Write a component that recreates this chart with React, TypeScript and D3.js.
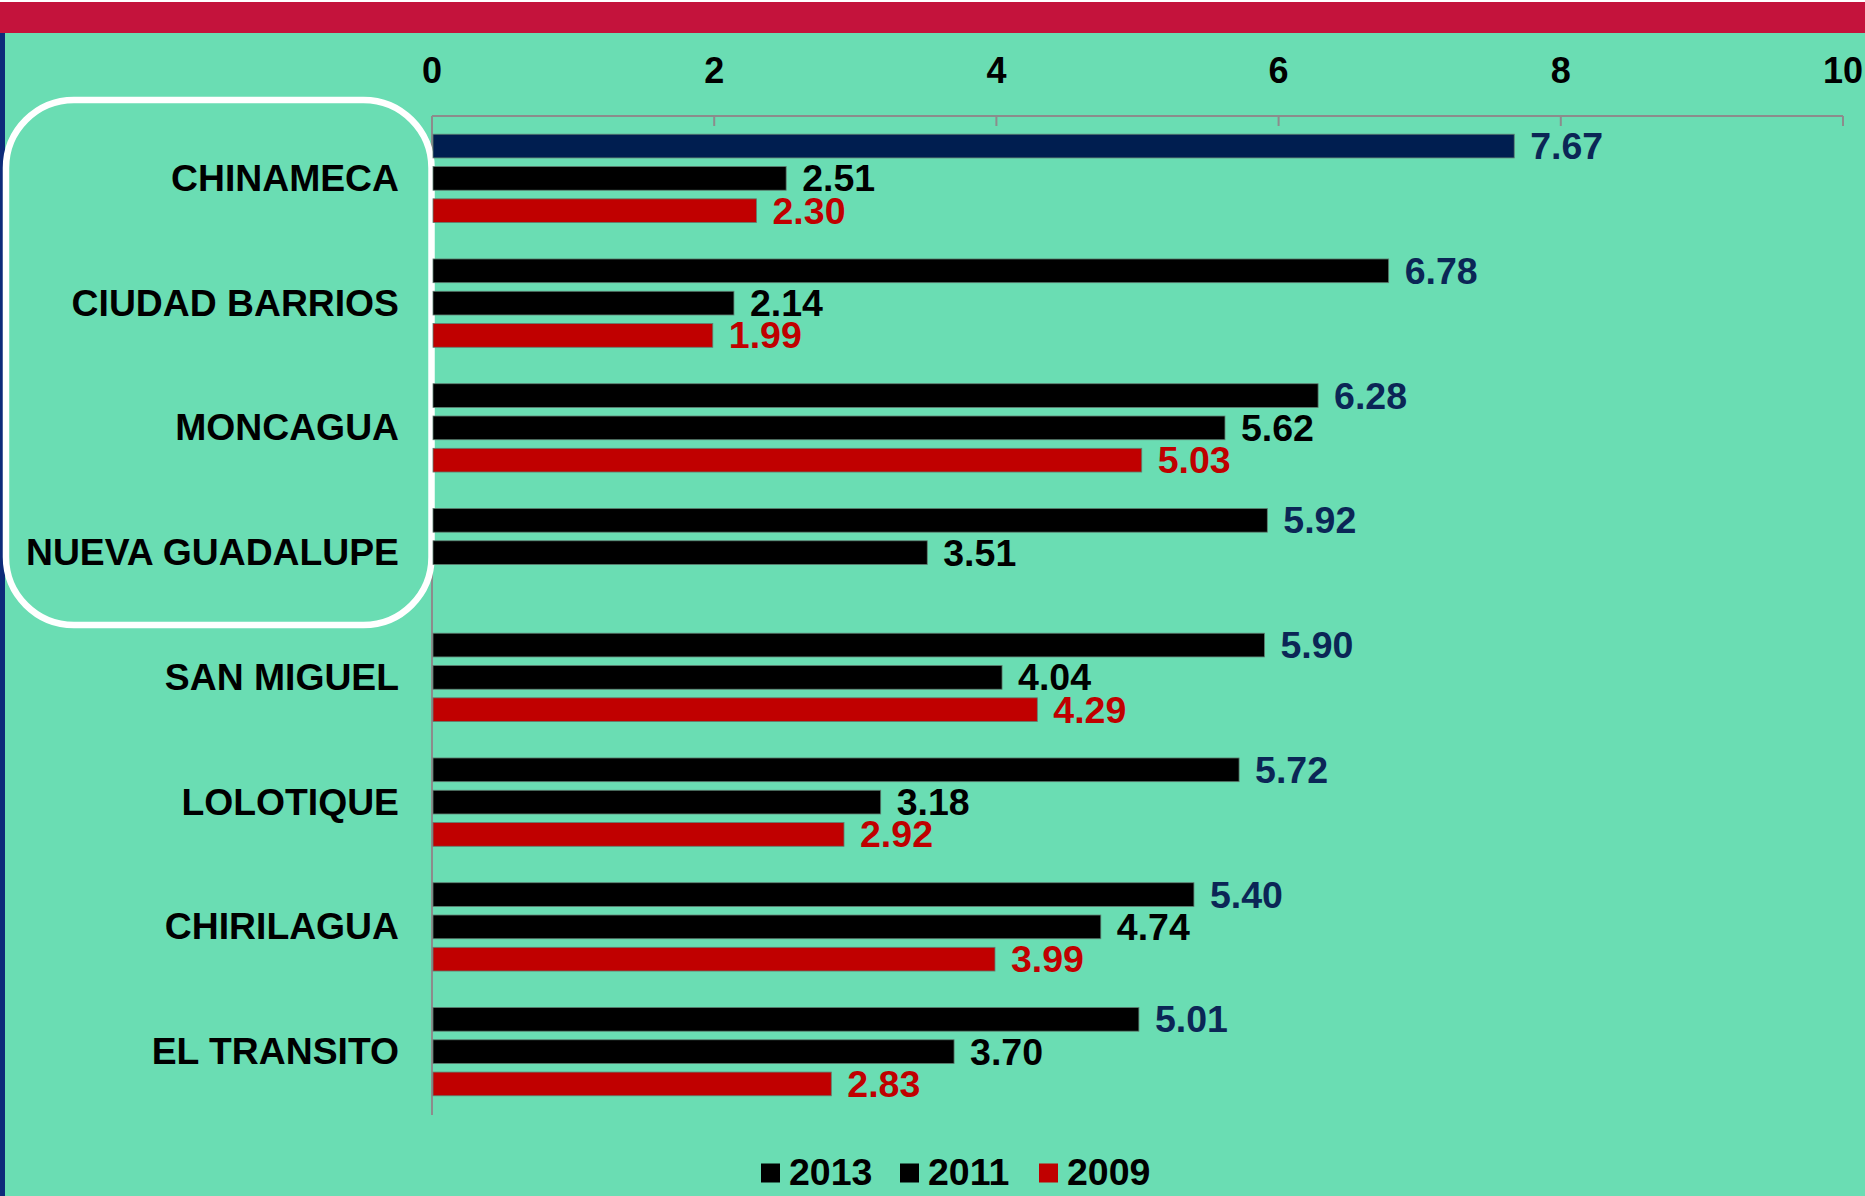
import React from "react";
import * as d3 from "d3";

const categories = [
  "CHINAMECA",
  "CIUDAD BARRIOS",
  "MONCAGUA",
  "NUEVA GUADALUPE",
  "SAN MIGUEL",
  "LOLOTIQUE",
  "CHIRILAGUA",
  "EL TRANSITO",
];
const seriesNames = ["2013", "2011", "2009"];
const values2013 = [7.67, 6.78, 6.28, 5.92, 5.9, 5.72, 5.4, 5.01];
const values2011 = [2.51, 2.14, 5.62, 3.51, 4.04, 3.18, 4.74, 3.7];
const values2009: (number | null)[] = [2.3, 1.99, 5.03, null, 4.29, 2.92, 3.99, 2.83];
const xTicks = [0, 2, 4, 6, 8, 10];
const highlighted = ["CHINAMECA"];

const W = 1865;
const H = 1196;
const FONT = "'Liberation Sans', Arial, Helvetica, sans-serif";
const BG = "#6ADDB3";
const NAVY_BAR = "#001E50";
const NAVY_TEXT = "#0B2656";
const RED = "#C00000";
const AXIS = "#8C8C8C";

export default function App() {
  const x = d3.scaleLinear().domain([0, 10]).range([432, 1843]);
  const y = d3.scaleBand<string>().domain(categories).range([116, 1114]).paddingInner(0).paddingOuter(0);
  const inner = d3
    .scaleBand<string>()
    .domain(seriesNames)
    .range([0, y.bandwidth()])
    .paddingInner(0.266)
    .paddingOuter(0.564);

  const seriesData: Record<string, (number | null)[]> = {
    "2013": values2013,
    "2011": values2011,
    "2009": values2009,
  };

  const barColor = (s: string, cat: string) => {
    if (s === "2013") return highlighted.includes(cat) ? NAVY_BAR : "#000000";
    if (s === "2011") return "#000000";
    return RED;
  };
  const labelColor = (s: string) => (s === "2013" ? NAVY_TEXT : s === "2011" ? "#000000" : RED);
  const legendColor = (s: string) => (s === "2009" ? RED : "#000000");

  const fs = 37.5;
  const legendX = d3.scalePoint<string>().domain(seriesNames).range([761, 1039]);

  return (
    <svg
      width={W}
      height={H}
      style={{ position: "absolute", left: 0, top: 0, display: "block" }}
      fontFamily={FONT}
      fontWeight="bold"
    >
      <rect x={0} y={0} width={W} height={H} fill="#ffffff" />
      <rect x={0} y={33} width={W} height={H - 33} fill={BG} />
      <rect x={0} y={2} width={W} height={31} fill="#C4133C" />
      <rect x={0} y={33} width={5} height={H - 33} fill="#0D2B7A" />

      {/* x axis */}
      <line x1={x(0)} x2={x(10)} y1={116} y2={116} stroke={AXIS} strokeWidth={2} />
      {xTicks.map((t) => (
        <g key={t}>
          <line x1={x(t)} x2={x(t)} y1={116} y2={126} stroke={AXIS} strokeWidth={2} />
          <text x={x(t)} y={83} textAnchor="middle" fontSize={36} fill="#000">
            {t}
          </text>
        </g>
      ))}
      {/* y axis */}
      <line x1={x(0)} x2={x(0)} y1={116} y2={1115} stroke={AXIS} strokeWidth={2} />

      {/* rounded highlight box */}
      <rect x={6} y={100} width={425.5} height={525} rx={68} ry={68} fill="none" stroke="#ffffff" strokeWidth={6.5} />

      {/* category labels */}
      {categories.map((c) => (
        <text
          key={c}
          x={399}
          y={(y(c) as number) + y.bandwidth() / 2 + 12.5}
          textAnchor="end"
          fontSize={37.3}
          fill="#000"
        >
          {c}
        </text>
      ))}

      {/* bars */}
      {categories.map((c, i) =>
        seriesNames.map((s) => {
          const v = seriesData[s][i];
          if (v === null || v === undefined) return null;
          const by = (y(c) as number) + (inner(s) as number);
          const bh = inner.bandwidth();
          return (
            <g key={c + s}>
              <rect
                x={x(0) + 1}
                y={by}
                width={x(v) - x(0) - 1}
                height={bh}
                fill={barColor(s, c)}
                stroke="#5f7f72"
                strokeWidth={0.8}
              />
              <text x={x(v) + 16} y={by + bh / 2 + 13} fontSize={fs} fill={labelColor(s)}>
                {v.toFixed(2)}
              </text>
            </g>
          );
        })
      )}

      {/* legend */}
      {seriesNames.map((s) => {
        const lx = legendX(s) as number;
        return (
          <g key={s}>
            <rect x={lx} y={1163.5} width={19} height={19} fill={legendColor(s)} />
            <text x={lx + 28} y={1185} fontSize={fs} fill="#000">
              {s}
            </text>
          </g>
        );
      })}
    </svg>
  );
}
